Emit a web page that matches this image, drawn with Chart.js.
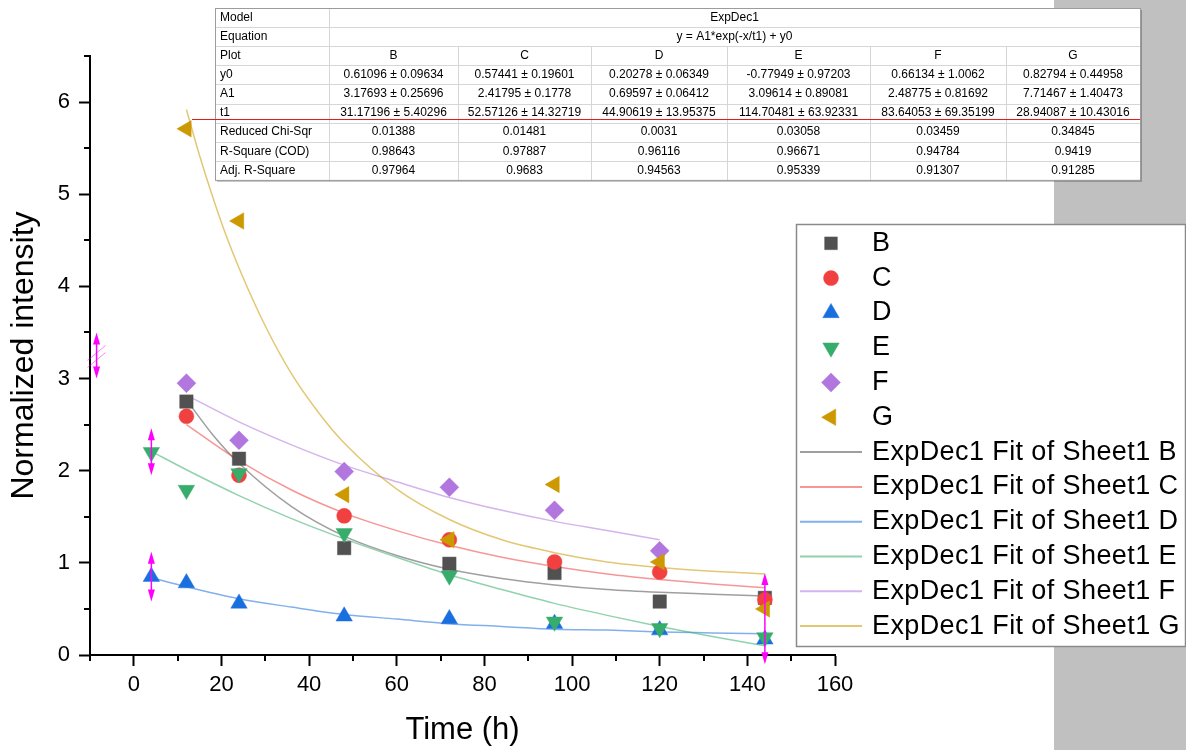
<!DOCTYPE html>
<html>
<head>
<meta charset="utf-8">
<script src="https://cdn.jsdelivr.net/npm/chart.js@4"></script>
<style>
html,body{margin:0;padding:0;background:#fff;}
#wrap{width:1186px;height:750px;position:relative;}
</style>
</head>
<body>
<div id="wrap"><canvas id="c" width="1186" height="750"></canvas></div>
<script>
// ---------------- data ----------------
const seriesNames = ['B', 'C', 'D', 'E', 'F', 'G'];

const bX = [12, 24, 48, 72, 96, 120, 144];
const bY = [2.75, 2.13, 1.16, 0.99, 0.89, 0.58, 0.62];
const cX = [12, 24, 48, 72, 96, 120, 144];
const cY = [2.59, 1.95, 1.51, 1.25, 1.01, 0.90, 0.60];
const dX = [4, 12, 24, 48, 72, 96, 120, 144];
const dY = [0.85, 0.78, 0.56, 0.42, 0.39, 0.34, 0.27, 0.17];
const eX = [4, 12, 24, 48, 72, 96, 120, 144];
const eY = [2.20, 1.79, 1.97, 1.32, 0.86, 0.36, 0.29, 0.19];
const fX = [12, 24, 48, 72, 96, 120];
const fY = [2.95, 2.33, 1.99, 1.82, 1.57, 1.13];
const gX = [12, 24, 48, 72, 96, 120, 144];
const gY = [5.71, 4.71, 1.74, 1.25, 1.85, 1.01, 0.50];

// fitted curves
const fitBX = [12, 18, 24, 36, 48, 60, 72, 84, 96, 108, 120, 132, 144];
const fitBY = [2.77, 2.39, 2.08, 1.61, 1.29, 1.08, 0.93, 0.83, 0.76, 0.71, 0.68, 0.66, 0.64];
const fitCX = [12, 24, 36, 48, 60, 72, 84, 96, 108, 120, 132, 144];
const fitCY = [2.50, 2.11, 1.79, 1.54, 1.35, 1.19, 1.06, 0.96, 0.88, 0.82, 0.77, 0.73];
const fitDX = [4, 12, 24, 36, 48, 60, 72, 84, 96, 108, 120, 132, 144];
const fitDY = [0.84, 0.74, 0.61, 0.52, 0.44, 0.39, 0.34, 0.31, 0.28, 0.27, 0.25, 0.24, 0.23];
const fitEX = [4, 12, 24, 36, 48, 60, 72, 84, 96, 108, 120, 132, 144];
const fitEY = [2.21, 2.01, 1.73, 1.48, 1.26, 1.06, 0.87, 0.71, 0.56, 0.43, 0.31, 0.20, 0.10];
const fitFX = [12, 24, 36, 48, 60, 72, 84, 96, 108, 120];
const fitFY = [2.82, 2.53, 2.28, 2.06, 1.88, 1.71, 1.57, 1.45, 1.35, 1.25];
const fitGX = [12, 15, 18, 21, 24, 30, 36, 42, 48, 60, 72, 84, 96, 108, 120, 132, 144];
const fitGY = [5.92, 5.42, 4.97, 4.56, 4.20, 3.57, 3.05, 2.64, 2.30, 1.80, 1.47, 1.25, 1.11, 1.01, 0.95, 0.91, 0.88];

// axis ticks
const xTicks = [0, 20, 40, 60, 80, 100, 120, 140, 160];
const xMinorTicks = [-10, 10, 30, 50, 70, 90, 110, 130, 150];
const yTicks = [0, 1, 2, 3, 4, 5, 6];
const yMinorTicks = [0.5, 1.5, 2.5, 3.5, 4.5, 5.5, 6.5];

// data-selector marks visible in the picture
const selX = [-8.5, 4, 4, 144];
const selLo = [3.0, 1.95, 0.58, -0.1];
const selHi = [3.5, 2.46, 1.12, 0.89];

// fit-results table
const tableRowLabels = ['Model', 'Equation', 'Plot', 'y0', 'A1', 't1', 'Reduced Chi-Sqr', 'R-Square (COD)', 'Adj. R-Square'];
const tableModel = 'ExpDec1';
const tableEquation = 'y = A1*exp(-x/t1) + y0';
const tableY0 = ['0.61096 ± 0.09634', '0.57441 ± 0.19601', '0.20278 ± 0.06349', '-0.77949 ± 0.97203', '0.66134 ± 1.0062', '0.82794 ± 0.44958'];
const tableA1 = ['3.17693 ± 0.25696', '2.41795 ± 0.1778', '0.69597 ± 0.06412', '3.09614 ± 0.89081', '2.48775 ± 0.81692', '7.71467 ± 1.40473'];
const tableT1 = ['31.17196 ± 5.40296', '52.57126 ± 14.32719', '44.90619 ± 13.95375', '114.70481 ± 63.92331', '83.64053 ± 69.35199', '28.94087 ± 10.43016'];
const tableChi = ['0.01388', '0.01481', '0.0031', '0.03058', '0.03459', '0.34845'];
const tableR2 = ['0.98643', '0.97887', '0.96116', '0.96671', '0.94784', '0.9419'];
const tableAdjR2 = ['0.97964', '0.9683', '0.94563', '0.95339', '0.91307', '0.91285'];

// ---------------- styling ----------------
const FONT = '"Liberation Sans", Arial, Helvetica, sans-serif';
const colors = ['81,81,81', '241,64,64', '26,111,223', '55,173,107', '177,119,222', '204,153,0'];
const styles = [
  {pointStyle: 'rect', rotation: 0, radius: 9.5},
  {pointStyle: 'circle', rotation: 0, radius: 7.5},
  {pointStyle: 'triangle', rotation: 0, radius: 9.5},
  {pointStyle: 'triangle', rotation: 180, radius: 9.5},
  {pointStyle: 'rectRot', rotation: 0, radius: 9.5},
  {pointStyle: 'triangle', rotation: 270, radius: 9.5}
];
const pts = (xs, ys) => xs.map((x, i) => ({x: x, y: ys[i]}));
const scatterData = [pts(bX, bY), pts(cX, cY), pts(dX, dY), pts(eX, eY), pts(fX, fY), pts(gX, gY)];
const fitData = [pts(fitBX, fitBY), pts(fitCX, fitCY), pts(fitDX, fitDY), pts(fitEX, fitEY), pts(fitFX, fitFY), pts(fitGX, fitGY)];

const datasets = [];
seriesNames.forEach((n, i) => {
  datasets.push({
    label: n,
    data: scatterData[i],
    showLine: false,
    pointStyle: styles[i].pointStyle,
    rotation: styles[i].rotation,
    pointRadius: styles[i].radius,
    pointHoverRadius: styles[i].radius,
    pointBackgroundColor: 'rgb(' + colors[i] + ')',
    pointBorderColor: 'rgba(' + colors[i] + ',0.45)',
    pointBorderWidth: 1,
    order: 6 - i
  });
});
seriesNames.forEach((n, i) => {
  datasets.push({
    label: 'ExpDec1 Fit of Sheet1 ' + n,
    data: fitData[i],
    showLine: true,
    pointRadius: 0,
    pointHoverRadius: 0,
    borderColor: 'rgba(' + colors[i] + ',0.55)',
    borderWidth: 1.5,
    cubicInterpolationMode: 'monotone',
    fill: false,
    order: 20 - i
  });
});

function shapePath(ctx, style, rot, r, x, y) {
  ctx.beginPath();
  if (style === 'circle') {
    ctx.arc(x, y, r, 0, Math.PI * 2);
  } else if (style === 'rect') {
    const s = r * Math.SQRT1_2;
    ctx.rect(x - s, y - s, 2 * s, 2 * s);
  } else if (style === 'rectRot') {
    ctx.moveTo(x, y - r); ctx.lineTo(x + r, y); ctx.lineTo(x, y + r); ctx.lineTo(x - r, y);
  } else {
    let a = rot * Math.PI / 180;
    for (let k = 0; k < 3; k++) {
      const px = x + Math.sin(a) * r, py = y - Math.cos(a) * r;
      if (k) ctx.lineTo(px, py); else ctx.moveTo(px, py);
      a += 2 * Math.PI / 3;
    }
  }
  ctx.closePath();
}

const decorPlugin = {
  id: 'decor',
  beforeDraw(chart) {
    const ctx = chart.ctx;
    ctx.save();
    ctx.fillStyle = '#ffffff';
    ctx.fillRect(0, 0, chart.width, chart.height);
    ctx.fillStyle = '#c0c0c0';
    ctx.fillRect(1054, 0, chart.width - 1054, chart.height);
    ctx.restore();
  },
  afterDraw(chart) {
    const ctx = chart.ctx;
    const xs = chart.scales.x, ys = chart.scales.y;
    const area = chart.chartArea;
    ctx.save();
    // minor ticks
    ctx.strokeStyle = '#000';
    ctx.lineWidth = 2;
    ctx.beginPath();
    xMinorTicks.forEach(v => {
      const px = Math.round(xs.getPixelForValue(v));
      ctx.moveTo(px, area.bottom); ctx.lineTo(px, area.bottom + 6);
    });
    yMinorTicks.forEach(v => {
      const py = Math.round(ys.getPixelForValue(v));
      ctx.moveTo(area.left, py); ctx.lineTo(area.left - 6, py);
    });
    ctx.stroke();

    // data selector marks (magenta)
    ctx.strokeStyle = '#ff00ff';
    ctx.fillStyle = '#ff00ff';
    ctx.lineWidth = 1.5;
    selX.forEach((v, i) => {
      const px = xs.getPixelForValue(v);
      const lo = ys.getPixelForValue(selLo[i]);
      const hi = ys.getPixelForValue(selHi[i]);
      ctx.beginPath(); ctx.moveTo(px, lo - 6); ctx.lineTo(px, hi + 6); ctx.stroke();
      ctx.beginPath(); ctx.moveTo(px, hi); ctx.lineTo(px - 3.5, hi + 12); ctx.lineTo(px + 3.5, hi + 12); ctx.closePath(); ctx.fill();
      ctx.beginPath(); ctx.moveTo(px, lo); ctx.lineTo(px - 3.5, lo - 12); ctx.lineTo(px + 3.5, lo - 12); ctx.closePath(); ctx.fill();
      if (i === 0) {
        const mid = (lo + hi) / 2;
        ctx.save();
        ctx.strokeStyle = 'rgba(255,0,255,0.5)';
        ctx.lineWidth = 1;
        ctx.beginPath();
        ctx.moveTo(px - 9, mid + 12); ctx.lineTo(px + 9, mid - 3);
        ctx.moveTo(px - 9, mid + 5); ctx.lineTo(px + 9, mid - 10);
        ctx.stroke();
        ctx.restore();
      }
    });

    // ---- fit table ----
    const tx = [215, 329, 458, 591, 727, 870, 1006, 1140];
    const tTop = 8, rh = 19.1, nRows = 9;
    const tBot = tTop + rh * nRows;
    ctx.fillStyle = '#ffffff';
    ctx.fillRect(tx[0], tTop, tx[7] - tx[0], tBot - tTop);
    ctx.strokeStyle = '#d6d6d6';
    ctx.lineWidth = 1;
    ctx.beginPath();
    for (let r = 1; r < nRows; r++) {
      const y = Math.round(tTop + r * rh) + 0.5;
      ctx.moveTo(tx[0], y); ctx.lineTo(tx[7], y);
    }
    ctx.moveTo(tx[1] + 0.5, tTop); ctx.lineTo(tx[1] + 0.5, tBot);
    for (let c = 2; c < 7; c++) {
      ctx.moveTo(tx[c] + 0.5, tTop + 2 * rh); ctx.lineTo(tx[c] + 0.5, tBot);
    }
    ctx.stroke();
    ctx.strokeStyle = '#9c9c9c';
    ctx.strokeRect(tx[0] + 0.5, tTop + 0.5, tx[7] - tx[0], tBot - tTop);
    ctx.strokeStyle = 'rgba(0,0,0,0.25)';
    ctx.beginPath();
    ctx.moveTo(tx[7] + 1.5, tTop + 2); ctx.lineTo(tx[7] + 1.5, tBot + 1.5); ctx.lineTo(tx[0] + 2, tBot + 1.5);
    ctx.stroke();

    ctx.fillStyle = '#000';
    ctx.font = '12px ' + FONT;
    ctx.textBaseline = 'middle';
    ctx.textAlign = 'left';
    tableRowLabels.forEach((t, r) => ctx.fillText(t, tx[0] + 5, tTop + rh * (r + 0.5)));
    ctx.textAlign = 'center';
    const spanC = (tx[1] + tx[7]) / 2;
    ctx.fillText(tableModel, spanC, tTop + rh * 0.5);
    ctx.fillText(tableEquation, spanC, tTop + rh * 1.5);
    const rows = [seriesNames, tableY0, tableA1, tableT1, tableChi, tableR2, tableAdjR2];
    rows.forEach((row, k) => {
      row.forEach((t, c) => ctx.fillText(t, (tx[c + 1] + tx[c + 2]) / 2, tTop + rh * (k + 2.5)));
    });
    // red line under t1 row
    ctx.strokeStyle = '#e41b1b';
    ctx.lineWidth = 1;
    ctx.beginPath();
    ctx.moveTo(192, 119.5); ctx.lineTo(tx[7], 119.5);
    ctx.stroke();

    // ---- legend ----
    const L = {x0: 796, y0: 224, x1: 1185, y1: 646, first: 243.3, step: 34.8, mx: 831, l0: 800, l1: 862, tx: 872};
    ctx.fillStyle = '#ffffff';
    ctx.fillRect(L.x0, L.y0, L.x1 - L.x0, L.y1 - L.y0);
    ctx.strokeStyle = '#8a8a8a';
    ctx.lineWidth = 1.5;
    ctx.strokeRect(L.x0 + 0.5, L.y0 + 0.5, L.x1 - L.x0, L.y1 - L.y0);
    ctx.font = '27px ' + FONT;
    ctx.textAlign = 'left';
    ctx.textBaseline = 'middle';
    if ('letterSpacing' in ctx) ctx.letterSpacing = '0.4px';
    chart.data.datasets.forEach((ds, i) => {
      const y = L.first + i * L.step;
      if (!ds.showLine) {
        const s = styles[i];
        ctx.fillStyle = 'rgb(' + colors[i] + ')';
        ctx.strokeStyle = 'rgba(' + colors[i] + ',0.45)';
        ctx.lineWidth = 1;
        const r = s.pointStyle === 'rect' ? 9 : (s.pointStyle === 'circle' ? 7.5 : 9.5);
        shapePath(ctx, s.pointStyle, s.rotation, r, L.mx, y);
        ctx.fill(); ctx.stroke();
      } else {
        ctx.strokeStyle = ds.borderColor;
        ctx.lineWidth = 2;
        ctx.beginPath(); ctx.moveTo(L.l0, y); ctx.lineTo(L.l1, y); ctx.stroke();
      }
      ctx.fillStyle = '#000';
      ctx.fillText(ds.label, L.tx, y);
    });
    ctx.restore();
  }
};

new Chart(document.getElementById('c'), {
  type: 'scatter',
  data: {datasets: datasets},
  plugins: [decorPlugin],
  options: {
    responsive: false,
    animation: false,
    events: [],
    layout: {padding: {left: 0, right: 351, top: 56, bottom: 0}},
    plugins: {legend: {display: false}, tooltip: {enabled: false}},
    scales: {
      x: {
        type: 'linear',
        min: -10,
        max: 160,
        afterBuildTicks: s => { s.ticks = xTicks.map(v => ({value: v})); },
        afterFit: s => { s.height = 95; },
        grid: {display: true, drawOnChartArea: false, drawTicks: true, tickLength: 11, tickWidth: 2, tickColor: '#000'},
        border: {display: true, color: '#000', width: 2},
        ticks: {font: {family: FONT, size: 22}, color: '#000', padding: 6, maxRotation: 0, autoSkip: false},
        title: {display: true, text: 'Time (h)', color: '#000', font: {family: FONT, size: 31, lineHeight: 1.2}, padding: {top: 0, bottom: 1}}
      },
      y: {
        type: 'linear',
        min: 0,
        max: 6.5,
        afterBuildTicks: s => { s.ticks = yTicks.map(v => ({value: v})); },
        afterFit: s => { s.width = 90; },
        grid: {display: true, drawOnChartArea: false, drawTicks: true, tickLength: 11, tickWidth: 2, tickColor: '#000'},
        border: {display: true, color: '#000', width: 2},
        ticks: {font: {family: FONT, size: 22}, color: '#000', padding: 9, autoSkip: false},
        title: {display: true, text: 'Normalized intensity', color: '#000', font: {family: FONT, size: 32, lineHeight: 1.2}, padding: {top: 5, bottom: 0}}
      }
    }
  }
});
</script>
</body>
</html>
